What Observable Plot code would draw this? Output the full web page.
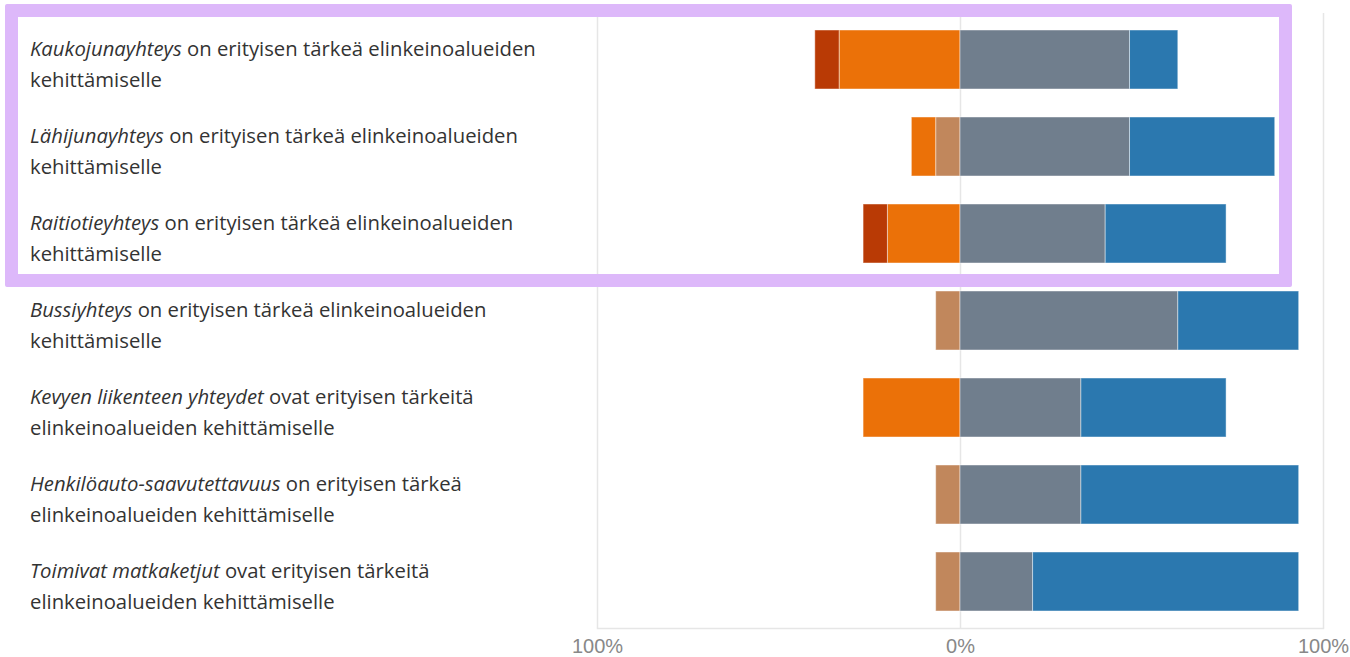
<!DOCTYPE html>
<html>
<head>
<meta charset="utf-8">
<script src="https://cdn.jsdelivr.net/npm/d3@7"></script>
<script src="https://cdn.jsdelivr.net/npm/@observablehq/plot@0.6"></script>
<style>
  html, body { margin: 0; padding: 0; background: #fff; }
  #wrap { position: relative; width: 1350px; height: 657px; overflow: hidden; }
  #highlight {
    position: absolute; left: 5px; top: 4px; width: 1287px; height: 283px;
    box-sizing: border-box; border: 13px solid #DDB8FA; border-radius: 2px;
    pointer-events: none;
  }
</style>
</head>
<body>
<div id="wrap"><div id="chart"></div><div id="highlight"></div></div>
<script>
// Statements (italic part + rest of first line + second line)
const emphasis = [
  "Kaukojunayhteys",
  "Lähijunayhteys",
  "Raitiotieyhteys",
  "Bussiyhteys",
  "Kevyen liikenteen yhteydet",
  "Henkilöauto-saavutettavuus",
  "Toimivat matkaketjut"
];
const line1Rest = [
  " on erityisen tärkeä elinkeinoalueiden",
  " on erityisen tärkeä elinkeinoalueiden",
  " on erityisen tärkeä elinkeinoalueiden",
  " on erityisen tärkeä elinkeinoalueiden",
  " ovat erityisen tärkeitä",
  " on erityisen tärkeä",
  " ovat erityisen tärkeitä"
];
const line2 = [
  "kehittämiselle",
  "kehittämiselle",
  "kehittämiselle",
  "kehittämiselle",
  "elinkeinoalueiden kehittämiselle",
  "elinkeinoalueiden kehittämiselle",
  "elinkeinoalueiden kehittämiselle"
];

// Response categories (negative side listed from zero outward, then positive)
const categories = [
  "Ei samaa eikä eri mieltä",
  "Jokseenkin eri mieltä",
  "Täysin eri mieltä",
  "Jokseenkin samaa mieltä",
  "Täysin samaa mieltä"
];
const categorySign = [-1, -1, -1, 1, 1];
const categoryColors = ["#C1875C", "#EB7108", "#B93A05", "#707E8D", "#2B78AF"];

// Shares in percent per statement
const neutral          = [0,    6.7,  0,    6.7,  0,    6.7,  6.7];
const disagree         = [33.3, 6.7,  20,   0,    26.7, 0,    0];
const stronglyDisagree = [6.7,  0,    6.7,  0,    0,    0,    0];
const agree            = [46.7, 46.7, 40,   60,   33.3, 33.3, 20];
const stronglyAgree    = [13.3, 40,   33.3, 33.3, 40,   60,   73.3];
const series = [neutral, disagree, stronglyDisagree, agree, stronglyAgree];

const xTicks = [-100, 0, 100];

const rows = [];
series.forEach((vals, ci) => {
  vals.forEach((v, i) => {
    if (v > 0) rows.push({item: emphasis[i], category: categories[ci], value: categorySign[ci] * v});
  });
});

const plot = Plot.plot({
  width: 1350,
  height: 657,
  marginLeft: 597,
  marginRight: 27,
  marginTop: 13,
  marginBottom: 29,
  style: {background: "#fff"},
  x: {domain: [-100, 100], ticks: xTicks, tickFormat: d => Math.abs(d) + "%", label: null},
  y: {domain: emphasis, paddingInner: 0.32, paddingOuter: 0.16, axis: null},
  color: {domain: categories, range: categoryColors},
  marks: [
    Plot.ruleX(xTicks, {stroke: "#e6e6e6", strokeWidth: 1.5}),
    Plot.frame({anchor: "bottom", stroke: "#e6e6e6", strokeWidth: 1.5}),
    Plot.barX(rows, Plot.stackX({
      x: "value", y: "item", fill: "category", order: categories,
      stroke: "#ffffff", strokeOpacity: 0.45, strokeWidth: 1, inset: 0
    })),
    Plot.axisX({ticks: xTicks, tickFormat: d => Math.abs(d) + "%", tickSize: 0, tickPadding: 10,
      fontSize: 20, fill: "#888", fontFamily: "Liberation Sans, Arial, sans-serif", label: null})
  ]
});

document.getElementById("chart").appendChild(plot);

// Row labels, positioned with the plot's own y scale
const yScale = plot.scale("y");
const bw = yScale.bandwidth;
const svg = d3.select(plot);
const g = svg.append("g")
  .attr("font-family", "'Open Sans', 'Noto Sans', sans-serif")
  .attr("font-size", 20.3)
  .attr("text-anchor", "start")
  .attr("fill", "#333");
emphasis.forEach((name, i) => {
  const cy = yScale.apply(name) + bw / 2;
  const t1 = g.append("text").attr("x", 30).attr("y", cy - 4);
  t1.append("tspan").attr("font-style", "italic").text(name);
  t1.append("tspan").text(line1Rest[i]);
  g.append("text").attr("x", 30).attr("y", cy + 27).text(line2[i]);
});
</script>
</body>
</html>
